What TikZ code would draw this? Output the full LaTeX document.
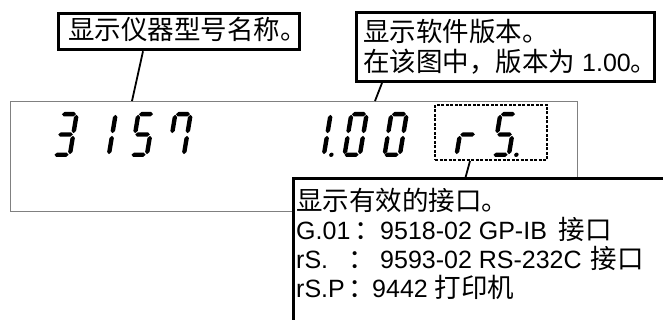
\documentclass[tikz,border=0pt]{standalone}
\usepackage{fontspec}
\setmainfont{Liberation Sans}
\newfontfamily\cjk[Scale=1.06]{Noto Sans CJK SC}
\usetikzlibrary{calc}
\def\sgt{2.2}
\newcommand\hsg[3]{\fill (#1,-#3) -- ({#1+\sgt},{-#3-\sgt}) -- ({#2-\sgt},{-#3-\sgt}) -- (#2,-#3) -- ({#2-\sgt},{-#3+\sgt}) -- ({#1+\sgt},{-#3+\sgt}) -- cycle;}
\newcommand\vsg[3]{\fill (#1,-#2) -- ({#1+\sgt},{-#2-\sgt}) -- ({#1+\sgt},{-#3+\sgt}) -- (#1,-#3) -- ({#1-\sgt},{-#3+\sgt}) -- ({#1-\sgt},{-#2-\sgt}) -- cycle;}
\newcommand\sgA{\hsg{2.8}{16.9}{42.8}}
\newcommand\sgB{\vsg{17.5}{23.8}{42.2}}
\newcommand\sgC{\vsg{17.5}{2.8}{21.2}}
\newcommand\sgD{\hsg{2.1}{16.2}{2.2}}
\newcommand\sgE{\vsg{2.2}{2.8}{21.2}}
\newcommand\sgF{\vsg{2.2}{23.8}{42.2}}
\newcommand\sgG{\hsg{2.5}{17.1}{22.5}}
\newcommand\sgP{\fill (25,-2.2) circle (2.2);}
\newcommand\segdigit[2]{\begin{scope}[shift={(#1,157)}, xslant=0.167]#2\end{scope}}
\begin{document}
\begin{tikzpicture}[x=1pt,y=-1pt,
  box/.style={draw, line width=3pt, inner sep=0pt, anchor=north west},
  dispbox/.style={draw=black!50, line width=1.1pt, inner sep=0pt, anchor=north west},
  dotbox/.style={draw, line width=2pt, dash pattern=on 3pt off 1.5pt, inner sep=0pt, anchor=north west},
  conn/.style={line width=1.8pt},
  txt/.style={inner sep=0pt, anchor=base west, font=\fontsize{25}{29}\selectfont}]
\useasboundingbox (0,0) rectangle (663,320);
\clip (0,0) rectangle (663,320);
% display
\node[dispbox, minimum width=567pt, minimum height=110pt] (disp) at (10,101) {};
% digits
\segdigit{52}{\sgA\sgB\sgG\sgC\sgD}
\segdigit{91}{\sgB\sgC}
\segdigit{129}{\sgA\sgF\sgG\sgC\sgD}
\segdigit{166}{\sgA\sgB\sgC\sgF}
\segdigit{306}{\sgB\sgC\sgP}
\segdigit{342}{\sgA\sgB\sgC\sgD\sgE\sgF}
\segdigit{382}{\sgA\sgB\sgC\sgD\sgE\sgF}
\segdigit{454}{\sgE\sgG}
\segdigit{491}{\sgA\sgF\sgG\sgC\sgD\sgP}
\node[dotbox, minimum width=112pt, minimum height=55pt] (dbox) at (434,104) {};
% callout boxes
\node[box, minimum width=241pt, minimum height=36.6pt] (b1) at (57,11.7) {};
\node[txt] (t1) at (68,40) {\cjk 显示仪器型号名称。};
\node[box, minimum width=298pt, minimum height=69.3pt] (b2) at (355,10.7) {};
\node[txt] (t2) at (363,41.7) {\cjk 显示软件版本。};
\node[txt] (t3) at (363,71.7) {{\cjk 在该图中，版本为} 1.00{\cjk 。}};
\node[box, fill=white, minimum width=400pt, minimum height=200pt] (b3) at (292,177.5) {};
\node[txt] (t4) at (296,211) {\cjk 显示有效的接口。};
\node[txt] (t5) at (296,240) {\makebox[58pt][l]{G.01}\makebox[26pt][l]{\cjk ：}9518-02 GP-IB\hspace{12pt}{\cjk 接口}};
\node[txt] (t6) at (296,268.5) {\makebox[52pt][l]{rS.}\makebox[32pt][l]{\cjk ：}9593-02 RS-232C\hspace{9pt}{\cjk 接口}};
\node[txt] (t7) at (296,297) {\makebox[52pt][l]{rS.P}\makebox[24pt][l]{\cjk ：}9442 {\cjk 打印机}};
% connectors
\draw[conn] ([xshift=86pt]b1.south west) -- ([xshift=122pt]disp.north west);
\draw[conn] ([xshift=27pt]b2.south west) -- ([xshift=365pt]disp.north west);
\draw[conn] ([xshift=36pt]dbox.south west) -- ([xshift=173.5pt]b3.north west);
\end{tikzpicture}
\end{document}
